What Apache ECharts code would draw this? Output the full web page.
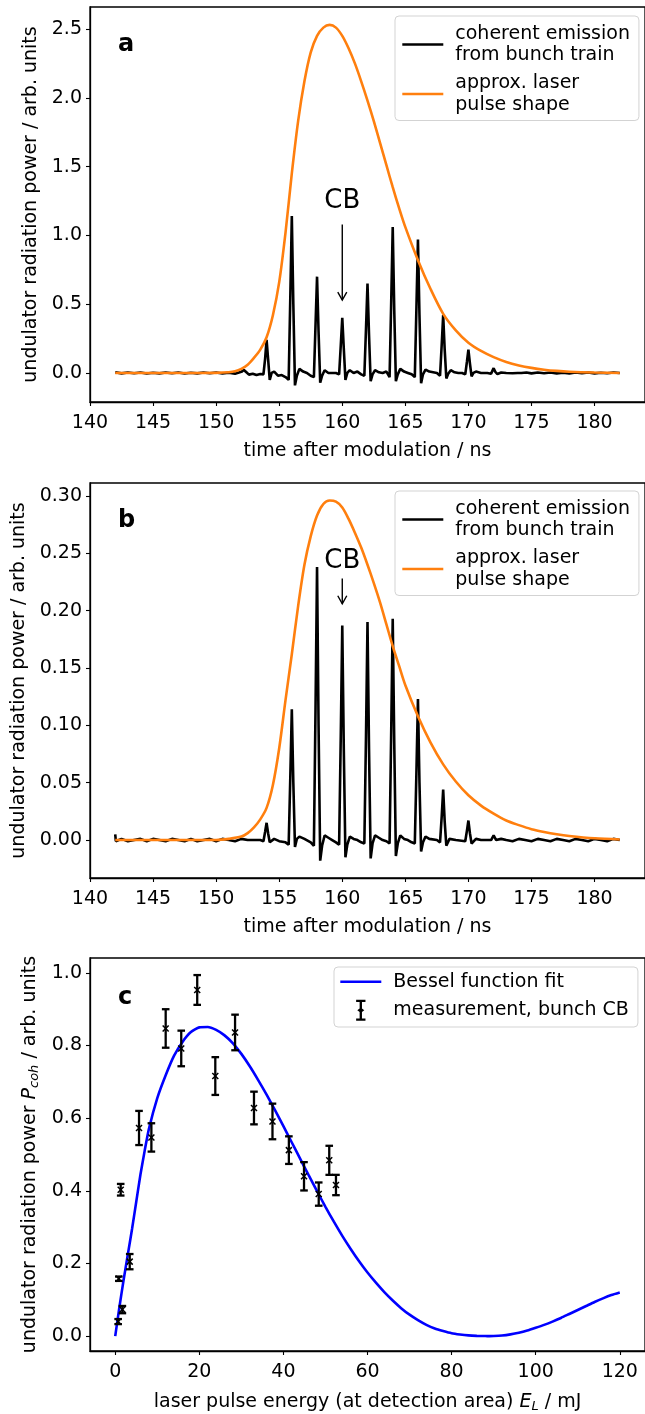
<!DOCTYPE html>
<html><head><meta charset="utf-8">
<script src="https://cdn.jsdelivr.net/npm/echarts@6/dist/echarts.min.js"></script>
<style>html,body{margin:0;padding:0;background:#fff;}#c{width:645px;height:1414px;}</style>
</head><body><div id="c"></div>
<script>
// ---------- DATA ----------
// Panel a: coherent emission trace (time ns, power arb.u.)
const tA = [142.0,142.5,143.0,143.5,144.0,144.5,145.0,145.5,146.0,146.5,147.0,147.5,148.0,148.5,149.0,149.5,150.0,150.5,151.0,151.5,152.0,152.2,152.4,152.6,152.9,153.2,153.5,153.75,153.88,154.0,154.12,154.25,154.4,154.6,154.9,155.2,155.5,155.75,155.88,156.0,156.12,156.25,156.4,156.6,156.9,157.2,157.5,157.75,157.88,158.0,158.12,158.25,158.4,158.6,158.9,159.2,159.5,159.75,159.88,160.0,160.12,160.25,160.4,160.6,160.9,161.2,161.5,161.75,161.88,162.0,162.12,162.25,162.4,162.6,162.9,163.2,163.5,163.75,163.88,164.0,164.12,164.25,164.4,164.6,164.9,165.2,165.5,165.75,165.88,166.0,166.12,166.25,166.4,166.6,166.9,167.2,167.5,167.75,167.88,168.0,168.12,168.25,168.4,168.6,168.9,169.2,169.5,169.75,169.88,170.0,170.12,170.25,170.4,170.6,171.0,171.5,171.8,171.9,172.0,172.12,172.3,172.6,173.0,173.5,173.9,174.0,174.2,174.6,175.0,175.5,176.0,176.5,177.0,177.5,178.0,178.5,179.0,179.5,180.0,180.5,181.0,181.5,182.0];
const pA = [0.005,-0.003,0.004,-0.002,0.003,-0.004,0.002,-0.003,0.004,-0.002,0.003,-0.004,0.002,-0.003,0.004,-0.002,0.003,-0.004,0.002,-0.005,0.008,0.022,0.005,-0.012,-0.005,-0.015,-0.008,-0.01,0.10,0.24,0.10,-0.05,0.0,0.01,-0.02,-0.015,-0.03,-0.05,0.55,1.14,0.50,-0.09,-0.02,0.03,0.01,0.0,-0.02,-0.03,0.35,0.70,0.30,-0.07,-0.02,0.02,0.0,0.0,0.0,-0.01,0.20,0.40,0.18,-0.05,0.0,0.02,0.0,0.01,-0.01,-0.02,0.32,0.65,0.28,-0.06,-0.01,0.02,0.005,0.0,0.01,-0.03,0.52,1.06,0.46,-0.06,-0.01,0.03,0.01,0.0,-0.01,-0.03,0.48,0.97,0.42,-0.075,-0.01,0.025,0.01,0.005,0.0,-0.02,0.20,0.42,0.17,-0.04,-0.005,0.02,0.005,0.0,0.0,-0.01,0.08,0.17,0.07,-0.025,0.0,0.01,0.0,0.0,-0.005,0.015,0.035,0.01,-0.008,0.003,0.0,-0.002,0.0,0.012,0.0,0.004,-0.003,0.003,-0.002,0.004,-0.003,0.002,-0.003,0.003,-0.002,0.003,-0.003,0.002,-0.002,0.003,0.0];
// Panel a: approx. laser pulse shape
const tLaserA = [142,144,146,148,150,151,151.5,152,152.5,153,153.5,154,154.5,155,155.5,156,156.5,157,157.5,158,158.5,159,159.5,160,160.5,161,161.5,162,162.5,163,163.5,164,164.5,165,166,167,168,169,170,171,172,173,174,175,176,177,178,180,182];
const pLaserA = [0,0,0,0,0.001,0.005,0.012,0.03,0.06,0.11,0.17,0.26,0.42,0.66,1.02,1.45,1.83,2.12,2.33,2.45,2.51,2.53,2.51,2.45,2.36,2.25,2.12,1.98,1.83,1.67,1.51,1.35,1.2,1.06,0.82,0.61,0.43,0.31,0.22,0.16,0.115,0.08,0.055,0.037,0.024,0.015,0.009,0.003,0.0];
// Panel b: coherent emission trace
const tB = [142.0,142.05,142.5,143.0,143.5,144.0,144.5,145.0,145.5,146.0,146.5,147.0,147.5,148.0,148.5,149.0,149.5,150.0,150.5,151.0,151.5,152.0,152.5,153.0,153.5,153.75,153.88,154.0,154.12,154.25,154.6,155.0,155.5,155.75,155.88,156.0,156.12,156.25,156.4,156.6,157.0,157.5,157.75,157.88,158.0,158.12,158.25,158.4,158.6,158.9,159.2,159.5,159.75,159.88,160.0,160.12,160.25,160.4,160.6,160.9,161.2,161.5,161.75,161.88,162.0,162.12,162.25,162.4,162.6,162.9,163.2,163.5,163.75,163.88,164.0,164.12,164.25,164.4,164.6,164.9,165.2,165.5,165.75,165.88,166.0,166.12,166.25,166.4,166.6,166.9,167.5,167.75,167.88,168.0,168.12,168.25,168.5,169.0,169.75,169.88,170.0,170.12,170.25,170.6,171.0,171.8,172.0,172.2,172.6,173.0,173.5,174.0,174.5,175.0,175.5,176.0,176.5,177.0,177.5,178.0,178.5,179.0,179.5,180.0,180.5,181.0,181.5,182.0];
const pB = [0.005,-0.001,0.001,-0.001,0.0,0.001,-0.001,0.001,0.0,-0.001,0.001,0.0,-0.001,0.001,-0.001,0.0,0.001,-0.001,0.001,0.0,-0.001,0.001,0.0,0.0,0.0,-0.001,0.007,0.015,0.006,-0.002,0.001,-0.001,-0.002,-0.004,0.055,0.114,0.05,-0.006,0.001,0.003,0.001,-0.002,-0.005,0.115,0.238,0.10,-0.018,-0.005,0.004,0.002,0.0,-0.002,-0.004,0.09,0.187,0.08,-0.015,-0.004,0.003,0.001,0.0,-0.002,-0.003,0.09,0.19,0.08,-0.016,-0.003,0.004,0.002,0.0,-0.001,-0.003,0.095,0.193,0.085,-0.014,-0.003,0.004,0.001,0.0,-0.002,-0.003,0.06,0.123,0.05,-0.01,-0.002,0.003,0.001,0.0,-0.002,0.02,0.044,0.016,-0.005,0.001,0.0,-0.001,0.008,0.017,0.006,-0.003,0.001,0.0,0.0,0.004,0.0,0.001,0.0,-0.001,0.001,0.0,-0.001,0.001,0.0,-0.001,0.001,0.0,-0.001,0.001,0.0,-0.001,0.001,0.0,-0.001,0.001,0.0];
// Panel b: approx. laser pulse shape
const tLaserB = [142,144,146,148,150,151,152,152.5,153,153.5,154,154.5,155,155.5,156,156.5,157,157.5,158,158.5,159,159.5,160,160.5,161,161.5,162,162.5,163,163.5,164,164.5,165,166,167,168,169,170,171,172,173,174,175,176,177,178,180,182];
const pLaserB = [0,0,0,0,0,0.001,0.003,0.006,0.011,0.018,0.028,0.048,0.08,0.122,0.162,0.204,0.24,0.265,0.283,0.293,0.296,0.295,0.29,0.28,0.268,0.255,0.24,0.224,0.207,0.188,0.169,0.152,0.135,0.108,0.085,0.066,0.051,0.039,0.03,0.023,0.017,0.013,0.0095,0.007,0.005,0.0035,0.0015,0.0005];
// Panel c: Bessel function fit
const eFit = [0,1,2,3,4,5,6,7,8,10,12,14,16,18,20,22,24,26,28,30,32,34,36,38,40,42,44,46,48,50,52,54,56,58,60,62,64,66,68,70,72,74,76,78,80,82,84,86,88,89,90,92,94,96,98,100,102,104,106,108,110,112,114,116,118,120];
const pFit = [0,0.08,0.155,0.225,0.295,0.37,0.445,0.51,0.57,0.655,0.718,0.772,0.81,0.837,0.85,0.851,0.843,0.828,0.806,0.777,0.743,0.705,0.665,0.622,0.578,0.533,0.488,0.443,0.399,0.356,0.315,0.276,0.24,0.206,0.175,0.147,0.121,0.098,0.077,0.059,0.044,0.031,0.021,0.014,0.008,0.0045,0.002,0.0007,0.0001,0,0.0002,0.0017,0.0048,0.0093,0.0154,0.023,0.031,0.04,0.05,0.061,0.072,0.083,0.094,0.104,0.113,0.12];
// Panel c: measurement, bunch CB (energy mJ, power, error)
const eMeas = [0.7,0.85,1.7,1.3,3.45,5.66,8.6,12.0,15.7,19.5,23.8,28.5,33.0,37.4,41.3,44.9,48.4,50.9,52.5];
const pMeas = [0.04,0.158,0.073,0.403,0.205,0.573,0.547,0.847,0.792,0.953,0.716,0.836,0.628,0.591,0.512,0.44,0.391,0.484,0.416];
const errMeas = [0.007,0.006,0.01,0.016,0.021,0.047,0.039,0.053,0.049,0.041,0.052,0.049,0.045,0.049,0.038,0.039,0.032,0.04,0.028];
// Annotations "CB": [x, text y, arrow start y, arrow end y]
const cbA = [160, 1.25, 1.08, 0.53];
const cbB = [160, 0.243, 0.228, 0.206];
// tick values
const ticksT = [140,145,150,155,160,165,170,175,180];
const ticksYA = [0,0.5,1.0,1.5,2.0,2.5];
const ticksYB = [0,0.05,0.10,0.15,0.20,0.25,0.30];
const ticksXC = [0,20,40,60,80,100,120];
const ticksYC = [0,0.2,0.4,0.6,0.8,1.0];

const nameLine1 = 'coherent emission\nfrom bunch train';
const nameLine2 = 'approx. laser\npulse shape';

// ---------- CHART ----------
const FONT = 'DejaVu Sans';
const FS = 19;
const chart = echarts.init(document.getElementById('c'), null, {renderer: 'canvas'});
const zip = (a, b) => a.map((v, i) => [v, b[i]]);

function xAxisCfg(idx, min, max, ticks, name, gap, rich) {
  return {
    type: 'value', gridIndex: idx, min: min, max: max,
    name: name, nameLocation: 'middle', nameGap: gap,
    nameTextStyle: Object.assign({fontFamily: FONT, fontSize: FS, color: '#000'}, rich ? {rich: rich} : {}),
    axisLine: {show: true, onZero: false, lineStyle: {color: '#000', width: 1.3}},
    axisTick: {show: true, length: 4, lineStyle: {color: '#000', width: 1.1}, customValues: ticks},
    axisLabel: {fontFamily: FONT, fontSize: FS, color: '#000', margin: 12, customValues: ticks, formatter: v => String(v)},
    splitLine: {show: false}
  };
}
function yAxisCfg(idx, min, max, ticks, dec, name, gap, rich) {
  return {
    type: 'value', gridIndex: idx, min: min, max: max,
    name: name, nameLocation: 'middle', nameGap: gap, nameRotate: 90,
    nameTextStyle: Object.assign({fontFamily: FONT, fontSize: FS, color: '#000'}, rich ? {rich: rich} : {}),
    axisLine: {show: true, onZero: false, lineStyle: {color: '#000', width: 1.3}},
    axisTick: {show: true, length: 4, lineStyle: {color: '#000', width: 1.1}, customValues: ticks},
    axisLabel: {fontFamily: FONT, fontSize: FS, color: '#000', margin: 8, customValues: ticks, formatter: v => v.toFixed(dec)},
    splitLine: {show: false}
  };
}
const gridBase = {left: 90, width: 558, show: true, borderColor: '#000', borderWidth: 1.3, backgroundColor: 'transparent'};

function cbRender(params, api) {
  const x = api.value(0);
  const t = api.coord([x, api.value(1)]);
  const s = api.coord([x, api.value(2)]);
  const e = api.coord([x, api.value(3)]);
  const st = {stroke: '#000', lineWidth: 1.4, fill: null};
  return {type: 'group', children: [
    {type: 'text', style: {x: t[0], y: t[1], text: 'CB', fontFamily: FONT, fontSize: 26, fill: '#000', align: 'center', verticalAlign: 'middle'}},
    {type: 'line', shape: {x1: s[0], y1: s[1], x2: e[0], y2: e[1]}, style: st},
    {type: 'polyline', shape: {points: [[e[0] - 4.5, e[1] - 8], [e[0], e[1]], [e[0] + 4.5, e[1] - 8]]}, style: st}
  ]};
}
function errRender(params, api) {
  const x = api.value(0), y = api.value(1), er = api.value(2);
  const top = api.coord([x, y + er]), bot = api.coord([x, y - er]), c = api.coord([x, y]);
  const w = 3.8, m = 3;
  const st = {stroke: '#000', lineWidth: 2.3, fill: null};
  const sx = {stroke: '#000', lineWidth: 1.5, fill: null};
  return {type: 'group', children: [
    {type: 'line', shape: {x1: top[0], y1: top[1], x2: bot[0], y2: bot[1]}, style: st},
    {type: 'line', shape: {x1: top[0] - w, y1: top[1], x2: top[0] + w, y2: top[1]}, style: st},
    {type: 'line', shape: {x1: bot[0] - w, y1: bot[1], x2: bot[0] + w, y2: bot[1]}, style: st},
    {type: 'line', shape: {x1: c[0] - m, y1: c[1] - m, x2: c[0] + m, y2: c[1] + m}, style: sx},
    {type: 'line', shape: {x1: c[0] - m, y1: c[1] + m, x2: c[0] + m, y2: c[1] - m}, style: sx}
  ]};
}

const legendBase = {
  orient: 'vertical', itemWidth: 41, itemHeight: 14, align: 'left',
  backgroundColor: 'rgba(255,255,255,0.85)', borderColor: '#d3d3d3', borderWidth: 1, borderRadius: 4,
  textStyle: {fontFamily: FONT, fontSize: FS, color: '#000', lineHeight: 21.5, padding: [0, 0, 0, 7]},
  lineStyle: {width: 2.6},
  selectedMode: false
};
const noSym = {opacity: 0};

const subRich = {
  n: {fontFamily: FONT, fontSize: FS, color: '#000'},
  i: {fontFamily: FONT, fontSize: FS, fontStyle: 'italic', color: '#000'},
  s: {fontFamily: FONT, fontSize: 13, fontStyle: 'italic', color: '#000', padding: [9, 0, 0, 0]}
};

const option = {
  animation: false,
  backgroundColor: '#fff',
  textStyle: {fontFamily: FONT},
  grid: [
    Object.assign({top: 7, height: 395}, gridBase),
    Object.assign({top: 483, height: 395}, gridBase),
    Object.assign({top: 958, height: 393}, gridBase)
  ],
  xAxis: [
    xAxisCfg(0, 140, 184, ticksT, 'time after modulation / ns', 40),
    xAxisCfg(1, 140, 184, ticksT, 'time after modulation / ns', 40),
    xAxisCfg(2, -6, 126, ticksXC, '{n|laser pulse energy (at detection area) }{i|E}{s|L}{n| / mJ}', 40, subRich)
  ],
  yAxis: [
    yAxisCfg(0, -0.211, 2.66, ticksYA, 1, 'undulator radiation power / arb. units', 46),
    yAxisCfg(1, -0.0331, 0.3113, ticksYB, 2, 'undulator radiation power / arb. units', 58),
    yAxisCfg(2, -0.041, 1.041, ticksYC, 1, '{n|undulator radiation power }{i|P}{s|coh}{n| / arb. units}', 46, subRich)
  ],
  legend: [
    Object.assign({}, legendBase, {left: 395, top: 16, padding: [7, 9, 5, 6], itemGap: 6.5, data: [{name: nameLine1, itemStyle: noSym}, {name: nameLine2, itemStyle: noSym}]}),
    Object.assign({}, legendBase, {left: 395, top: 491, padding: [7, 9, 5, 6], itemGap: 6.5, data: [{name: nameLine1, itemStyle: noSym}, {name: nameLine2, itemStyle: noSym}]}),
    Object.assign({}, legendBase, {left: 334, top: 967, padding: [4, 9, 6, 5], itemGap: 7, itemHeight: 21, data: [
      {name: 'Bessel function fit', itemStyle: noSym},
      {name: 'measurement, bunch CB', icon: 'path://M0,0H8V2H5V7.5L7,9L5,10.5V16H8V18H0V16H3V10.5L1,9L3,7.5V2H0Z'}
    ]})
  ],
  graphic: [
    {type: 'text', left: 118, top: 33, style: {text: 'a', fontFamily: FONT, fontSize: 24, fontWeight: 'bold', fill: '#000'}},
    {type: 'text', left: 118, top: 509, style: {text: 'b', fontFamily: FONT, fontSize: 24, fontWeight: 'bold', fill: '#000'}},
    {type: 'text', left: 118, top: 986, style: {text: 'c', fontFamily: FONT, fontSize: 24, fontWeight: 'bold', fill: '#000'}}
  ],
  series: [
    {name: nameLine1, type: 'line', xAxisIndex: 0, yAxisIndex: 0, data: zip(tA, pA), showSymbol: false, symbol: 'none', lineStyle: {color: '#000', width: 2.6}, itemStyle: {color: '#000'}, z: 2},
    {name: nameLine2, type: 'line', xAxisIndex: 0, yAxisIndex: 0, data: zip(tLaserA, pLaserA), smooth: 0.3, showSymbol: false, symbol: 'none', lineStyle: {color: '#ff7f0e', width: 2.6}, itemStyle: {color: '#ff7f0e'}, z: 3},
    {name: 'cbA', type: 'custom', xAxisIndex: 0, yAxisIndex: 0, data: [cbA], renderItem: cbRender, z: 5, silent: true},
    {name: nameLine1, type: 'line', xAxisIndex: 1, yAxisIndex: 1, data: zip(tB, pB), showSymbol: false, symbol: 'none', lineStyle: {color: '#000', width: 2.6}, itemStyle: {color: '#000'}, z: 2},
    {name: nameLine2, type: 'line', xAxisIndex: 1, yAxisIndex: 1, data: zip(tLaserB, pLaserB), smooth: 0.3, showSymbol: false, symbol: 'none', lineStyle: {color: '#ff7f0e', width: 2.6}, itemStyle: {color: '#ff7f0e'}, z: 3},
    {name: 'cbB', type: 'custom', xAxisIndex: 1, yAxisIndex: 1, data: [cbB], renderItem: cbRender, z: 5, silent: true},
    {name: 'Bessel function fit', type: 'line', xAxisIndex: 2, yAxisIndex: 2, data: zip(eFit, pFit), smooth: 0.2, showSymbol: false, symbol: 'none', lineStyle: {color: '#0000ff', width: 2.6}, itemStyle: {color: '#0000ff'}, z: 2},
    {name: 'measurement, bunch CB', type: 'custom', xAxisIndex: 2, yAxisIndex: 2, data: eMeas.map((e, i) => [e, pMeas[i], errMeas[i]]), renderItem: errRender, itemStyle: {color: '#000'}, encode: {x: 0, y: 1}, z: 3}
  ]
};
chart.setOption(option);
</script>
</body></html>
